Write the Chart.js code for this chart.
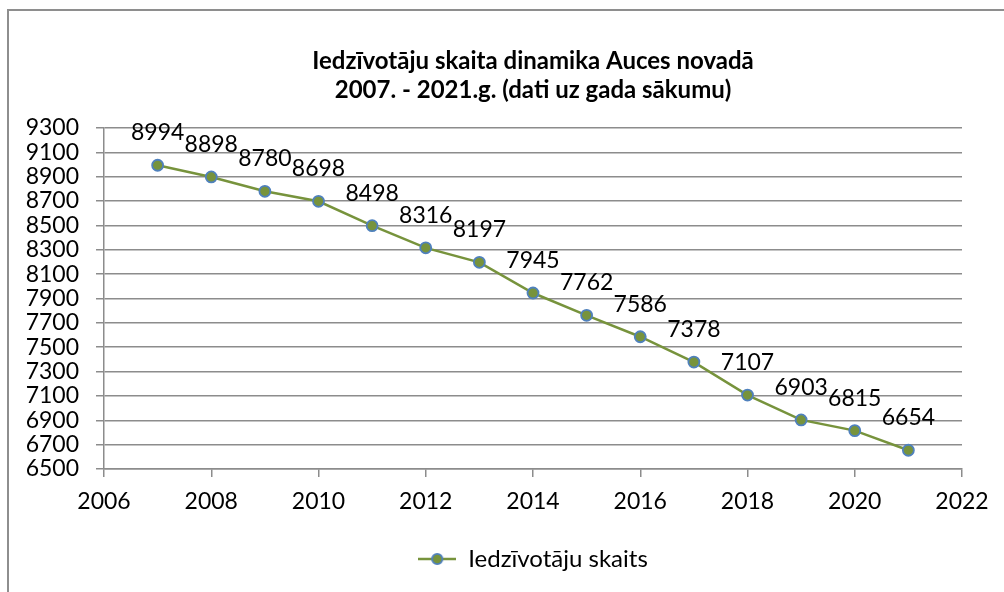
<!DOCTYPE html>
<html><head><meta charset="utf-8">
<script src="https://cdn.jsdelivr.net/npm/chart.js@4.4.1/dist/chart.umd.min.js"></script>
<style>
html,body{margin:0;padding:0;background:#fff;}
#wrap{position:relative;width:1004px;height:592px;overflow:hidden;background:#fff;}
#frame{position:absolute;left:7px;top:9px;width:1200px;height:800px;border:2px solid #8e8e8e;}
canvas{position:absolute;left:0;top:0;}
</style></head><body>
<div id="wrap"><div id="frame"></div><canvas id="c" width="1004" height="592"></canvas></div>
<script>
const years = [2007,2008,2009,2010,2011,2012,2013,2014,2015,2016,2017,2018,2019,2020,2021];
const population = [8994,8898,8780,8698,8498,8316,8197,7945,7762,7586,7378,7107,6903,6815,6654];
const xTickLabels = [2006,2008,2010,2012,2014,2016,2018,2020,2022];
const yTickLabels = [6500,6700,6900,7100,7300,7500,7700,7900,8100,8300,8500,8700,8900,9100,9300];
const seriesName = 'Iedzīvotāju skaits';
const titleLines = ['Iedzīvotāju skaita dinamika Auces novadā', '2007. - 2021.g. (dati uz gada sākumu)'];

const FONT = 'Lato';
const LINE = '#77933C';
const MARK_BORDER = '#4F81BD';
const GRID = '#8c8c8c';

// legend sample: line with marker
const SW = 38;
const sample = document.createElement('canvas');
sample.width = SW; sample.height = 14;
(function(){
  const g = sample.getContext('2d');
  g.strokeStyle = LINE; g.lineWidth = 2.5;
  g.beginPath(); g.moveTo(0,7); g.lineTo(SW,7); g.stroke();
  g.beginPath(); g.arc(SW/2,7,5.2,0,Math.PI*2);
  g.fillStyle = LINE; g.fill();
  g.lineWidth = 1.8; g.strokeStyle = MARK_BORDER; g.stroke();
})();

const dataLabels = {
  id: 'dataLabels',
  afterDatasetsDraw(chart) {
    const ctx = chart.ctx;
    const meta = chart.getDatasetMeta(0);
    ctx.save();
    ctx.font = '23px ' + FONT;
    ctx.fillStyle = '#000';
    ctx.textAlign = 'center';
    ctx.textBaseline = 'alphabetic';
    meta.data.forEach((pt, i) => {
      ctx.fillText(String(population[i]), pt.x, pt.y - 25);
    });
    ctx.restore();
  }
};

new Chart(document.getElementById('c'), {
  type: 'line',
  data: {
    datasets: [{
      label: seriesName,
      data: years.map((y, i) => ({x: y, y: population[i]})),
      borderColor: LINE,
      borderWidth: 2.5,
      backgroundColor: LINE,
      pointBackgroundColor: LINE,
      pointBorderColor: MARK_BORDER,
      pointBorderWidth: 1.8,
      pointRadius: 5.5,
      tension: 0,
      pointStyle: 'circle'
    }]
  },
  options: {
    responsive: false,
    animation: false,
    events: [],
    layout: { padding: { top: 20, left: 10, right: 42, bottom: 11 } },
    plugins: {
      title: {
        display: true,
        fullSize: false,
        text: titleLines,
        color: '#000',
        font: { family: FONT, size: 24, weight: 'bold', lineHeight: 1.2 },
        padding: { top: 27, bottom: 23.4 }
      },
      legend: {
        display: true,
        fullSize: false,
        position: 'bottom',
        labels: {
          color: '#000',
          font: { family: FONT, size: 24 },
          usePointStyle: true,
          pointStyleWidth: SW,
          padding: 10,
          generateLabels(chart) {
            return [{ text: seriesName, pointStyle: sample, fillStyle: LINE, strokeStyle: LINE, lineWidth: 0, datasetIndex: 0, hidden: false }];
          }
        }
      },
      tooltip: { enabled: false }
    },
    scales: {
      x: {
        type: 'linear',
        min: xTickLabels[0],
        max: xTickLabels[xTickLabels.length - 1],
        afterBuildTicks(scale) { scale.ticks = xTickLabels.map(v => ({value: v})); },
        afterFit(scale) { scale.height = 68; },
        grid: { display: true, drawOnChartArea: false, drawTicks: true, tickLength: 8, color: GRID, tickColor: GRID, lineWidth: 1.5 },
        border: { display: true, color: GRID, width: 1.5 },
        ticks: { color: '#000', font: { family: FONT, size: 23 }, padding: 11, maxRotation: 0, autoSkip: false, callback: v => String(v) }
      },
      y: {
        type: 'linear',
        min: yTickLabels[0],
        max: yTickLabels[yTickLabels.length - 1],
        afterBuildTicks(scale) { scale.ticks = yTickLabels.map(v => ({value: v})); },
        afterFit(scale) { scale.width = 94; },
        grid: { display: true, drawTicks: true, tickLength: 8, color: GRID, tickColor: GRID, lineWidth: 1.5 },
        border: { display: true, color: GRID, width: 1.5 },
        ticks: { color: '#000', font: { family: FONT, size: 23 }, padding: 17, autoSkip: false, callback: v => String(v) }
      }
    }
  },
  plugins: [dataLabels]
});
</script>
</body></html>
